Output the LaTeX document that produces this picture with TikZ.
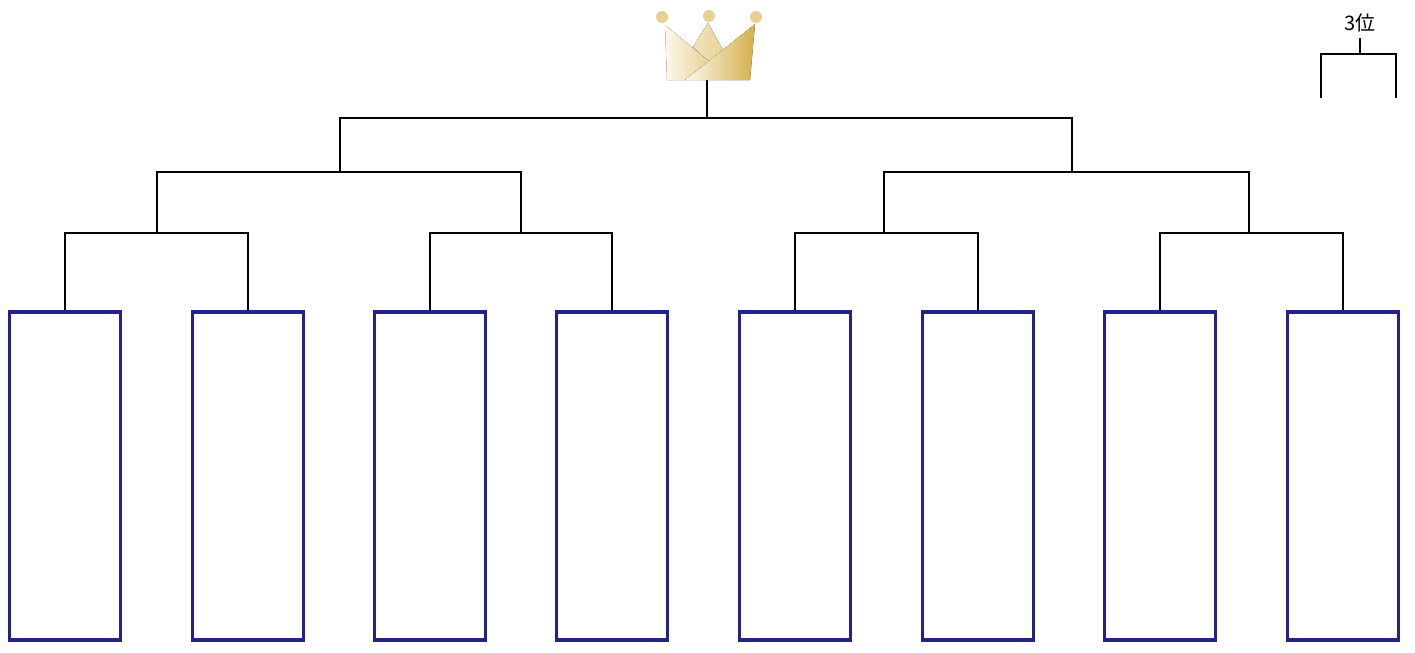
\documentclass[tikz,border=0pt]{standalone}
\usepackage{fontspec}
\newfontfamily\jpfont{Noto Sans CJK JP}
\usepackage{tikz}
\usetikzlibrary{positioning}
\usepackage{xcolor}
\definecolor{entryblue}{HTML}{22228A}
\definecolor{crowngold}{HTML}{D4B04A}
\definecolor{crownlight}{HTML}{FCF8EC}

\tikzset{
  entry/.style={draw=entryblue, line width=1.8pt, fill=white, minimum width=55.5pt, minimum height=164pt, inner sep=0pt},
  bracket/.style={black, line width=0.65pt},
  ball/.style={fill=crowngold!55!crownlight}
}

\begin{document}
\begin{tikzpicture}[x=0.5pt, y=-0.5pt]
\useasboundingbox (0,0) rectangle (1415,653);

% entry boxes
\foreach \i/\x in {1/65, 2/248, 3/430, 4/612, 5/795, 6/978, 7/1160, 8/1343}
  \node[entry] (b\i) at (\x,476) {};

% junctions
\coordinate (q1) at (157,233);
\coordinate (q2) at (521,233);
\coordinate (q3) at (884,233);
\coordinate (q4) at (1249,233);
\coordinate (s1) at (340,172);
\coordinate (s2) at (1072,172);
\coordinate (top) at (707,118);
\coordinate (crownfoot) at (707,80);

\draw[bracket] (b1.north) |- (q1) -| (b2.north);
\draw[bracket] (b3.north) |- (q2) -| (b4.north);
\draw[bracket] (b5.north) |- (q3) -| (b6.north);
\draw[bracket] (b7.north) |- (q4) -| (b8.north);
\draw[bracket] (q1) |- (s1) -| (q2);
\draw[bracket] (q3) |- (s2) -| (q4);
\draw[bracket] (s1) |- (top) -| (s2);
\draw[bracket] (top) -- (crownfoot);

% crown
\fill[left color=crowngold!30!crownlight, right color=crowngold!50!crownlight] (693,47) -- (708,23) -- (723,50) -- (708,62) -- cycle;
\fill[left color=crownlight, right color=crowngold!55!crownlight] (665,25) -- (710,62) -- (685,80) -- (667,80) -- cycle;
\fill[left color=crownlight, right color=crowngold] (755,24) -- (750,80) -- (685,80) -- cycle;
\fill[ball] (662,17) circle (6);
\fill[ball] (709,16) circle (6);
\fill[ball] (756,17) circle (6);

% third place
\node (third) at (1360,23) {\jpfont\fontsize{10}{12}\selectfont 3位};
\coordinate (t1) at (1321,98);
\coordinate (t2) at (1396,98);
\coordinate (tm) at (1360,54);
\draw[bracket] (1360,38) -- (tm);
\draw[bracket] (t1) |- (tm) -| (t2);
\end{tikzpicture}
\end{document}
